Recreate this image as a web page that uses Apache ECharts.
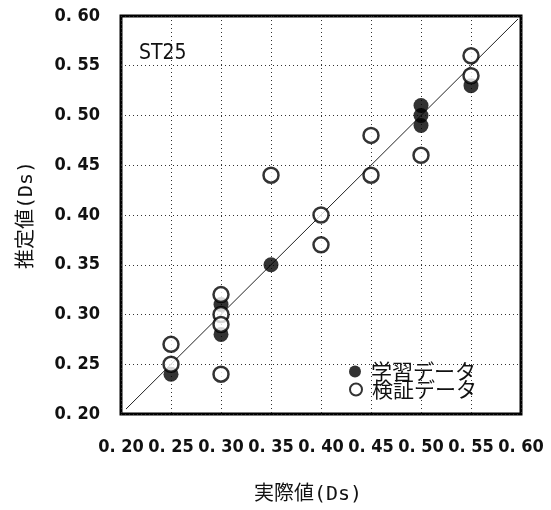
<!DOCTYPE html>
<html>
<head>
<meta charset="utf-8">
<script src="https://cdn.jsdelivr.net/npm/echarts@6/dist/echarts.min.js"></script>
<style>html,body{margin:0;padding:0;background:#fff;}#c{width:551px;height:510px;}</style>
</head>
<body>
<div id="c"></div>
<script>
const tickValues = [0.20, 0.25, 0.30, 0.35, 0.40, 0.45, 0.50, 0.55, 0.60];
const tickLabels = ['0. 20', '0. 25', '0. 30', '0. 35', '0. 40', '0. 45', '0. 50', '0. 55', '0. 60'];
const seriesNames = ['学習データ', '検証データ'];
const trainX = [0.25, 0.30, 0.30, 0.35, 0.50, 0.50, 0.50, 0.55];
const trainY = [0.24, 0.28, 0.31, 0.35, 0.49, 0.50, 0.51, 0.53];
const testX = [0.25, 0.25, 0.30, 0.30, 0.30, 0.30, 0.35, 0.40, 0.40, 0.45, 0.45, 0.50, 0.55, 0.55];
const testY = [0.27, 0.25, 0.32, 0.30, 0.29, 0.24, 0.44, 0.40, 0.37, 0.44, 0.48, 0.46, 0.56, 0.54];
const diagLine = [[0.205, 0.205], [0.597, 0.597]];
const panelLabel = 'ST25';
const xTitle = '実際値(Ds)';
const yTitle = '推定値(Ds)';

const zip = (xs, ys) => xs.map((x, i) => [x, ys[i]]);
const fmt = v => {
  const i = tickValues.findIndex(t => Math.abs(t - v) < 1e-6);
  return i >= 0 ? tickLabels[i] : '';
};
const tickFont = {fontFamily: "'DejaVu Sans Condensed', 'DejaVu Sans', sans-serif", fontWeight: 'bold', fontSize: 18, color: '#111'};
const titleFont = {fontFamily: "'DejaVu Sans Mono', 'Noto Sans CJK JP', monospace", fontSize: 20, color: '#111'};
const gridLine = {show: true, lineStyle: {type: [1, 3], color: '#333', width: 1}};

const chart = echarts.init(document.getElementById('c'), null, {renderer: 'canvas'});
chart.setOption({
  backgroundColor: '#fff',
  animation: false,
  title: {
    text: panelLabel, left: 134, top: 38,
    textStyle: {fontFamily: "'Liberation Sans Narrow', 'DejaVu Sans Condensed', sans-serif", fontSize: 21, fontWeight: 500, color: '#111'}
  },
  grid: {left: 121, right: 30, top: 16, bottom: 96, show: true, borderColor: '#000', borderWidth: 3, backgroundColor: 'transparent'},
  legend: [
    {
      data: [{name: seriesNames[0], itemStyle: {color: '#000'}}],
      left: 349, top: 361, itemWidth: 22, itemHeight: 12, padding: 0,
      textStyle: {fontFamily: "'Noto Sans CJK JP', sans-serif", fontSize: 21, color: '#111', lineHeight: 20},
      selectedMode: false
    },
    {
      data: [{name: seriesNames[1], itemStyle: {color: '#fff', borderColor: '#000', borderWidth: 2}}],
      left: 349, top: 379, itemWidth: 22, itemHeight: 12, padding: 0,
      textStyle: {fontFamily: "'Noto Sans CJK JP', sans-serif", fontSize: 21, color: '#111', lineHeight: 20},
      selectedMode: false
    }
  ],
  xAxis: {
    type: 'value', min: 0.2, max: 0.6, interval: 0.05,
    axisLine: {show: false}, axisTick: {show: false},
    axisLabel: Object.assign({formatter: fmt, margin: 24}, tickFont),
    splitLine: gridLine,
    name: xTitle, nameLocation: 'middle', nameGap: 71,
    nameTextStyle: Object.assign({padding: [0, 26, 0, 0]}, titleFont)
  },
  yAxis: {
    type: 'value', min: 0.2, max: 0.6, interval: 0.05,
    axisLine: {show: false}, axisTick: {show: false},
    axisLabel: Object.assign({formatter: fmt, margin: 21}, tickFont),
    splitLine: gridLine,
    name: yTitle, nameLocation: 'middle', nameGap: 84,
    nameTextStyle: titleFont
  },
  series: [
    {
      type: 'line', data: diagLine, symbol: 'none', silent: true,
      lineStyle: {color: '#222', width: 1}, z: 1
    },
    {
      name: seriesNames[0], type: 'scatter', data: zip(trainX, trainY),
      symbol: 'circle', symbolSize: 15, itemStyle: {color: '#000'}, z: 3,
      emphasis: {disabled: true}
    },
    {
      name: seriesNames[1], type: 'scatter', data: zip(testX, testY),
      symbol: 'circle', symbolSize: 15, itemStyle: {color: '#fff', borderColor: '#000', borderWidth: 2.5}, z: 4,
      emphasis: {disabled: true}
    }
  ]
});
</script>
</body>
</html>
